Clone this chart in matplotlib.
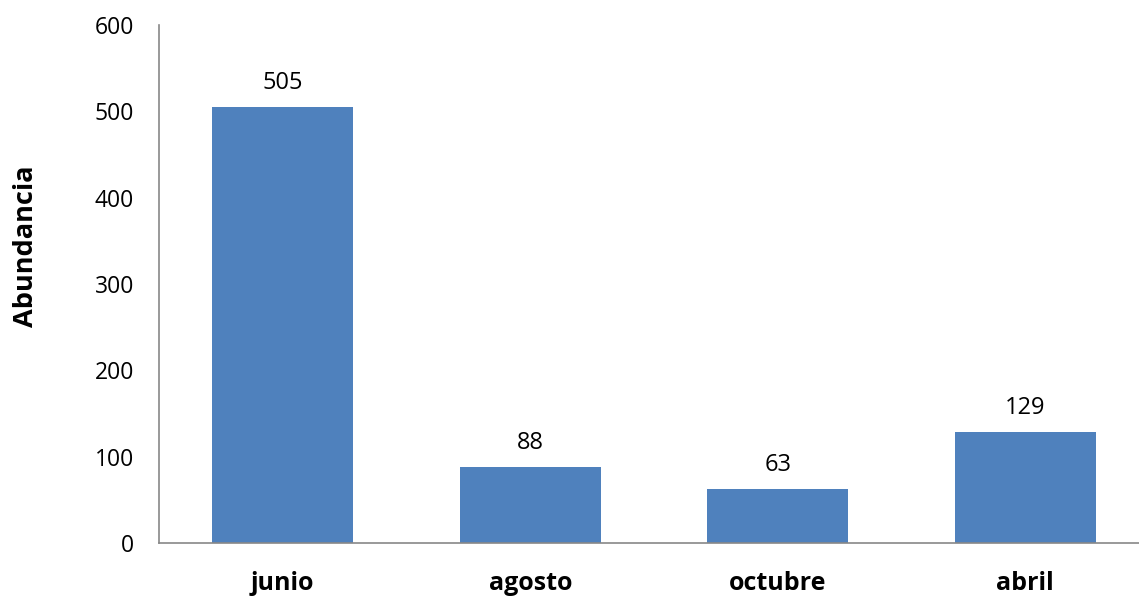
import matplotlib
matplotlib.use("Agg")
import matplotlib.pyplot as plt

categories = ["junio", "agosto", "octubre", "abril"]
values = [505, 88, 63, 129]
yticks = [0, 100, 200, 300, 400, 500, 600]

plt.rcParams['font.family'] = ['Open Sans', 'DejaVu Sans']

fig = plt.figure(figsize=(11.39, 5.96), dpi=100)
W, H = 1139, 596
left, right, top, bottom = 159, 1149, 25, 543
ax = fig.add_axes([left / W, (H - bottom) / H, (right - left) / W, (bottom - top) / H])

x = list(range(len(categories)))
bars = ax.bar(x, values, width=0.57, color="#4F81BD", zorder=2)
for xi, v in zip(x, values):
    ax.text(xi, v + 14, str(v), ha="center", va="bottom", fontsize=17, color="black")

ax.set_xlim(-0.5, 3.5)
ax.set_ylim(0, 600)
ax.set_yticks(yticks)
ax.set_yticklabels([str(t) for t in yticks], fontsize=16.5)
ax.set_xticks(x)
ax.set_xticklabels(categories, fontsize=18, fontweight="bold")
ax.tick_params(axis="both", length=0)
ax.tick_params(axis="y", pad=18)
ax.tick_params(axis="x", pad=20)
for s in ["top", "right"]:
    ax.spines[s].set_visible(False)
for s in ["left", "bottom"]:
    ax.spines[s].set_color("#888888")
    ax.spines[s].set_linewidth(1.2)
ax.set_ylabel("Abundancia", fontsize=19.5, fontweight="bold")
ax.yaxis.set_label_coords(-0.121, 0.573)

fig.savefig("out.png", dpi=100)
